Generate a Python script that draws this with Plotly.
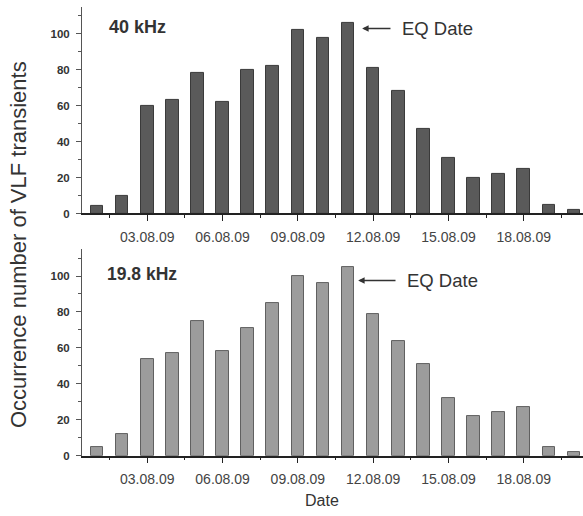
import plotly.graph_objects as go

# Daily counts of VLF transients, 01.08.09 – 20.08.09
days = list(range(1, 21))
counts_40khz = [4, 10, 60, 63, 78, 62, 80, 82, 102, 98, 106, 81, 68, 47, 31, 20, 22, 25, 5, 2]
counts_19_8khz = [5, 12, 54, 57, 75, 58, 71, 85, 100, 96, 105, 79, 64, 51, 32, 22, 24, 27, 5, 2]

tick_days = [3, 6, 9, 12, 15, 18]
tick_labels = ["03.08.09", "06.08.09", "09.08.09", "12.08.09", "15.08.09", "18.08.09"]
eq_day = 11

W, H = 583, 516
L = 82
FONT = "Liberation Sans"
TXT = "#333333"

fig = go.Figure()
fig.add_trace(go.Bar(x=days, y=counts_40khz, width=0.5, xaxis="x", yaxis="y",
                     marker=dict(color="#5a5a5a", line=dict(color="#3a3a3a", width=1))))
fig.add_trace(go.Bar(x=days, y=counts_19_8khz, width=0.5, xaxis="x2", yaxis="y2",
                     marker=dict(color="#9c9c9c", line=dict(color="#606060", width=1))))

xcommon = dict(range=[0.4, 20.36], tickmode="array", tickvals=tick_days, ticktext=tick_labels,
               showline=True, linecolor="#222", linewidth=1.5, ticks="outside", ticklen=6,
               tickcolor="#222", tickfont=dict(family=FONT, size=14, color="#444"),
               ticklabelstandoff=4, showgrid=False, zeroline=False,
               minor=dict(tickmode="linear", tick0=0, dtick=1.5, ticks="outside",
                          ticklen=3, tickcolor="#222"))
ycommon = dict(range=[0, 115], tickmode="linear", tick0=0, dtick=20, showline=True,
               linecolor="#555", linewidth=1, ticks="outside", ticklen=5, tickcolor="#555",
               tickfont=dict(family=FONT, size=11.5, color="#333", weight="bold"),
               ticklabelstandoff=4, showgrid=False, zeroline=False,
               minor=dict(tickmode="linear", tick0=0, dtick=10, ticks="outside",
                          ticklen=3, tickcolor="#555"))

fig.update_layout(
    width=W, height=H, margin=dict(l=L, r=0, t=0, b=0),
    plot_bgcolor="white", paper_bgcolor="white", showlegend=False, bargap=0,
    xaxis=dict(domain=[0, 1], anchor="y", **xcommon),
    yaxis=dict(domain=[1 - 216 / H, 1 - 7 / H], anchor="x", **ycommon),
    xaxis2=dict(domain=[0, 1], anchor="y2", **xcommon),
    yaxis2=dict(domain=[1 - 461 / H, 1 - 252 / H], anchor="x2", **ycommon),
)

annotations = [
    dict(xref="x", yref="y", x=1.4, y=104, text="<b>40 kHz</b>", showarrow=False,
         xanchor="left", yanchor="middle", font=dict(family=FONT, size=18, color=TXT)),
    dict(xref="x2", yref="y2", x=1.32, y=101, text="<b>19.8 kHz</b>", showarrow=False,
         xanchor="left", yanchor="middle", font=dict(family=FONT, size=17.5, color=TXT)),
    # arrows marking the earthquake date
    dict(xref="x", yref="y", x=eq_day + 0.56, y=103, axref="x", ayref="y",
         ax=12.75, ay=103, text="", showarrow=True, arrowhead=2, arrowsize=1,
         arrowwidth=1.3, arrowcolor="#333"),
    dict(xref="x", yref="y", x=13.05, y=103, text="EQ Date", showarrow=False,
         xanchor="left", yanchor="middle", font=dict(family=FONT, size=18.5, color=TXT)),
    dict(xref="x2", yref="y2", x=eq_day + 0.4, y=97.5, axref="x2", ayref="y2",
         ax=12.95, ay=97.5, text="", showarrow=True, arrowhead=2, arrowsize=1,
         arrowwidth=1.3, arrowcolor="#333"),
    dict(xref="x2", yref="y2", x=13.25, y=97.5, text="EQ Date", showarrow=False,
         xanchor="left", yanchor="middle", font=dict(family=FONT, size=18.5, color=TXT)),
    # shared titles
    dict(xref="paper", yref="paper", x=(18 - L) / (W - L), y=1 - 248 / H,
         text="Occurrence number of VLF transients", textangle=-90, showarrow=False,
         xanchor="center", yanchor="middle", font=dict(family=FONT, size=22, color=TXT)),
    dict(xref="paper", yref="paper", x=(322 - L) / (W - L), y=1 - 506 / H,
         text="Date", showarrow=False, xanchor="center", yanchor="middle",
         font=dict(family=FONT, size=16, color=TXT)),
]
fig.update_layout(annotations=annotations)

fig.write_html("out.html")
